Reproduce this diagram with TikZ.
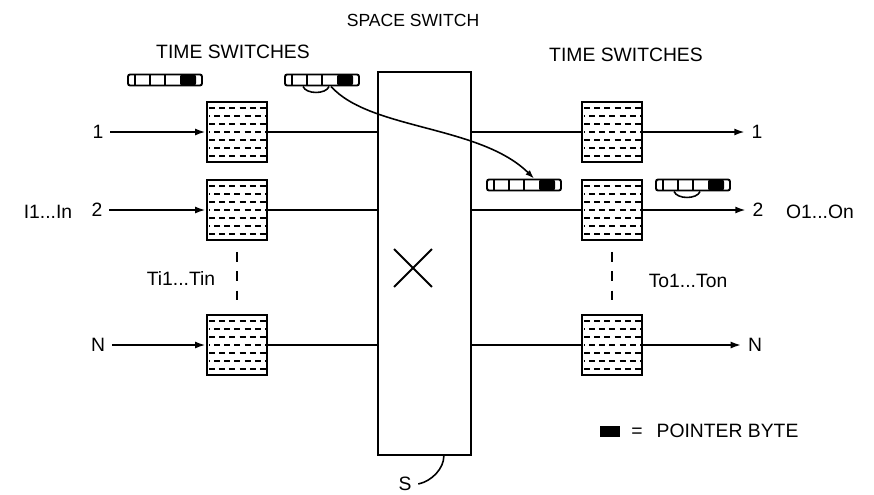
\documentclass[tikz,border=0pt]{standalone}
\usepackage{fontspec}
\setmainfont{Liberation Sans}
\usetikzlibrary{arrows.meta,positioning,calc,shapes.misc}

\begin{document}
\begin{tikzpicture}[x=0.02cm, y=-0.02cm, line width=1.1pt,
  font=\fontsize{11}{13}\selectfont,
  arr/.style={-{Latex[length=6pt,width=4pt]}},
  tsw/.style={draw, line width=1.6pt, minimum size=1.2cm, inner sep=0pt,
    path picture={
      \foreach \yy/\ph in {6/0pt,14/2.9pt,22/0pt,30/2.9pt,38/0pt,46/2.9pt,54/0pt}
        \draw[line width=1.6pt, dash pattern=on 3.4pt off 2.4pt, dash phase=\ph]
          (path picture bounding box.north west) ++(2,\yy) -- ++(58,0);
    }},
  bytebar/.style={draw, line width=1.1pt, rounded corners=1.2pt,
    minimum width=1.48cm, minimum height=0.22cm, inner sep=0pt,
    path picture={
      \fill (path picture bounding box.north west) ++(52,0) rectangle ++(16,11);
      \foreach \dx in {7,22,37}
        \draw (path picture bounding box.north west) ++(\dx,0) -- ++(0,11);
    }}]
  \useasboundingbox (0,0) rectangle (874,494);

  % headings
  \node (tsl) at (233,52) {TIME SWITCHES};
  \node (tsr) at (626,55) {TIME SWITCHES};
  \node[font=\fontsize{10}{12}\selectfont] (ssw) at (413,20) {SPACE SWITCH};

  % space switch
  \node[draw, line width=1.3pt, minimum width=1.86cm, minimum height=7.66cm]
    (sw) at (424.5,263.5) {};
  \node[cross out, draw, line width=1.1pt, minimum size=0.72cm] (xmark) at (413,268) {};
  \node (slab) at (405,484) {S};
  \draw[line width=0.9pt] (slab.east) .. controls +(14,-3) and +(0,12) .. ([xshift=11pt]sw.south);

  % time switches
  \node[tsw] (l1) at (237,132) {};
  \node[tsw] (l2) at (237,210) {};
  \node[tsw] (lN) at (237,345) {};
  \node[tsw] (r1) at (612,132) {};
  \node[tsw] (r2) at (612,210) {};
  \node[tsw] (rN) at (612,345) {};
  \draw[dash pattern=on 5.5pt off 5.5pt, shorten <=6pt, shorten >=5pt] (l2) -- (lN);
  \draw[dash pattern=on 5.5pt off 5.5pt, shorten <=6pt, shorten >=5pt] (r2) -- (rN);
  \node (tin) at (181,278) {Ti1...Tin};
  \node (ton) at (688,281) {To1...Ton};

  % inputs
  \node (in1) at (98,132) {1};
  \node (in2) at (97,210) {2};
  \node (inN) at (98,345) {N};
  \node (inlab) at (48,212) {I1...In};
  \foreach \r in {1,2,N} {
    \draw[arr] (in\r) -- (l\r);
    \draw (l\r) -- (l\r -| sw.west);
    \draw (r\r -| sw.east) -- (r\r);
  }

  % outputs
  \node (o1) at (757,132) {1};
  \node (o2) at (758,210) {2};
  \node (oN) at (755,345) {N};
  \node (outlab) at (820,212) {O1...On};
  \foreach \r in {1,2,N}
    \draw[arr] (r\r) -- (o\r);

  % buffers with pointer byte
  \node[bytebar] (bl1) at (165,80) {};
  \node[bytebar] (bl2) at (322,80) {};
  \node[bytebar] (br1) at (524,185) {};
  \node[bytebar] (br2) at (693,185) {};
  \draw[line width=0.9pt] (bl2.south west) ++(19,0) .. controls +(3,8) and +(-3,8) .. ++(26,0);
  \draw[line width=0.9pt] (br2.south west) ++(19,0) .. controls +(3,8) and +(-3,8) .. ++(26,0);
  \coordinate (ptr) at ($(bl2.south west)+(47,0)$);
  \coordinate (tip) at ($(br1.north west)+(48,0)$);
  \draw[line width=0.9pt, -{Latex[length=5pt,width=3.5pt]}]
    (ptr) .. controls (370,130) and (480,125) .. (tip);

  % legend
  \node[fill=black, minimum width=0.4cm, minimum height=0.22cm, inner sep=0pt]
    (key) at (610,431) {};
  \node[right=2pt of key] (keytxt) {=\hspace{8pt}POINTER BYTE};
\end{tikzpicture}
\end{document}
